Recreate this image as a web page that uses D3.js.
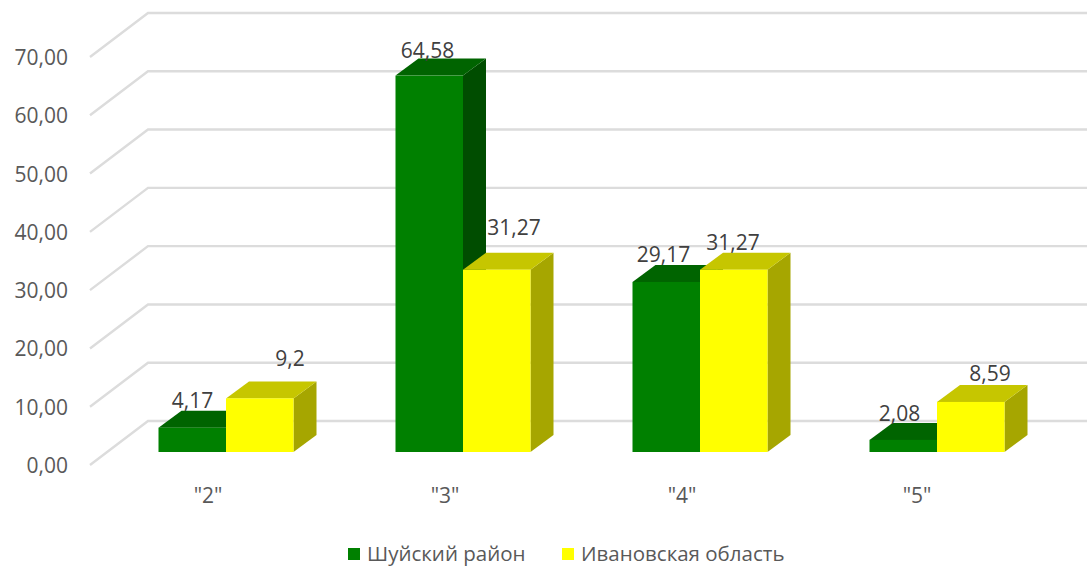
<!DOCTYPE html>
<html><head><meta charset="utf-8">
<script src="https://cdn.jsdelivr.net/npm/d3@7"></script>
<style>html,body{margin:0;padding:0;background:#fff}svg{display:block}text{font-family:"Open Sans",sans-serif}</style>
</head><body><svg id="c" width="1087" height="567"></svg>
<script>
const categories = ['"2"','"3"','"4"','"5"'];
const seriesNames = ["Шуйский район","Ивановская область"];
const shuya = [4.17,64.58,29.17,2.08];
const ivanovo = [9.2,31.27,31.27,8.59];
const shuyaLabels = ["4,17","64,58","29,17","2,08"];
const ivanovoLabels = ["9,2","31,27","31,27","8,59"];
const ticks = [0,10,20,30,40,50,60,70];

const W=1087,H=567;
const svg=d3.select("#c");
const y=d3.scaleLinear().domain([0,70]).range([465,57]);
const depth={x:58,y:-44}, barDepth={x:23,y:-17};
const x=d3.scaleBand().domain(categories).range([90,1038]);
const inner=d3.scaleBand().domain([0,1]).range([-67.5,67.5]);
const fmt=d=>d3.format(".2f")(d).replace(".",",");
const grid=svg.append("g");
ticks.forEach(t=>{
  grid.append("path").attr("fill","none").attr("stroke","#dcdcdc").attr("stroke-width",2.4)
   .attr("d",d3.line()([[90,y(t)],[90+depth.x,y(t)+depth.y],[W,y(t)+depth.y]]));
  svg.append("text").attr("x",68).attr("y",y(t)+8).attr("text-anchor","end")
   .attr("font-size",21).attr("fill","#595959").text(fmt(t));
});
const base=452, offs=226-x('"2"')-x.bandwidth()/2;
const yb=v=>y(v)-(y(0)-base);
const series=[
 {vals:shuya,labels:shuyaLabels,i:0,front:"#008000",top:"#006400",side:"#004d00",
  nudge:[[34,-20],[32,-18],[31,-20],[30,-19]]},
 {vals:ivanovo,labels:ivanovoLabels,i:1,front:"#ffff00",top:"#c6c600",side:"#a6a600",
  nudge:[[64,-32],[51,-35],[33,-20],[53,-21]]}
];
const poly=p=>d3.line()(p)+"Z";
const slotW=inner.bandwidth();
categories.forEach((c,ci)=>{
 series.forEach(s=>{
  const g=svg.append("g");
  const x0=x(c)+x.bandwidth()/2+offs+inner(s.i), x1=x0+slotW;
  const t=yb(s.vals[ci]);
  const d=barDepth;
  g.append("path").attr("fill",s.side).attr("d",poly([[x1,t],[x1+d.x,t+d.y],[x1+d.x,base+d.y],[x1,base]]));
  g.append("path").attr("fill",s.top).attr("d",poly([[x0,t],[x0+d.x,t+d.y],[x1+d.x,t+d.y],[x1,t]]));
  g.append("rect").attr("x",x0).attr("y",t).attr("width",slotW).attr("height",base-t).attr("fill",s.front);
 });
});
series.forEach(s=>{
 categories.forEach((c,ci)=>{
  const x0=x(c)+x.bandwidth()/2+offs+inner(s.i);
  svg.append("text").attr("x",x0+s.nudge[ci][0]).attr("y",yb(s.vals[ci])+s.nudge[ci][1])
   .attr("text-anchor","middle").attr("font-size",21).attr("fill","#404040").text(s.labels[ci]);
 });
});
const catX=[208,445,682,917];
categories.forEach((c,i)=>{
 svg.append("text").attr("x",catX[i]).attr("y",503).attr("text-anchor","middle")
  .attr("font-size",21).attr("fill","#595959").text(c);
});
const leg=[{x:348,tx:367,c:"#008000"},{x:562,tx:581,c:"#ffff00"}];
leg.forEach((l,i)=>{
 svg.append("rect").attr("x",l.x).attr("y",548).attr("width",12).attr("height",12).attr("fill",l.c);
 svg.append("text").attr("x",l.tx).attr("y",561).attr("font-size",20.5).attr("fill","#595959").text(seriesNames[i]);
});
</script></body></html>
